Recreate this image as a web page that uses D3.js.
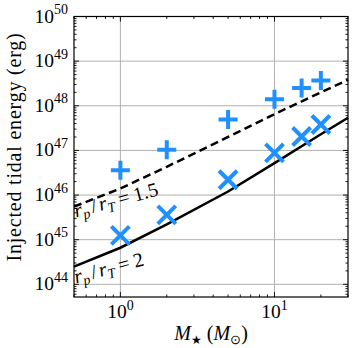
<!DOCTYPE html>
<html>
<head>
<meta charset="utf-8">
<script src="https://cdn.jsdelivr.net/npm/d3@7"></script>
<style>
  body { margin: 0; background: #fff; }
  svg { display: block; }
  text { font-family: "Liberation Serif", "Times New Roman", serif; fill: #000; }
</style>
</head>
<body>
<svg id="chart"></svg>
<script>
// stellar masses of the simulated stars (M_sun)
const masses = [1, 2, 5, 10, 15, 20];
// injected tidal energy, plus markers (erg)
const energyPlus = [3.6e46, 1.04e47, 4.9e47, 1.4e48, 2.5e48, 3.7e48];
// injected tidal energy, cross markers (erg)
const energyCross = [1.25e45, 3.6e45, 2.2e46, 8.8e46, 2.05e47, 3.8e47];

// analytic curves
const lineMass = [0.5, 1, 2, 5, 10, 20, 30];
const curveBeta15 = [5.5e45, 1.4e46, 4.3e46, 2.0e47, 6.5e47, 2.0e48, 3.8e48];
const curveBeta2 = [2.5e44, 6.6e44, 2.2e45, 1.2e46, 5.2e46, 2.3e47, 5.4e47];

const xTickExp = [0, 1];
const yTickExp = [44, 45, 46, 47, 48, 49, 50];

const svgWidth = 353;
const svgHeight = 348;
const margin = { top: 16.5, right: 5, bottom: 51, left: 74 };
const width = svgWidth - margin.left - margin.right;
const height = svgHeight - margin.top - margin.bottom;
const blue = '#1e90ff';

const svg = d3.select('#chart')
    .attr('width', svgWidth)
    .attr('height', svgHeight);

const g = svg.append('g')
    .attr('transform', `translate(${margin.left}, ${margin.top})`);

const xScale = d3.scaleLog()
    .domain([0.5, 30])
    .range([0, width]);

const yScale = d3.scaleLog()
    .domain([5.2e43, 1e50])
    .range([height, 0]);

// minor tick positions (1..9 x 10^k) inside the domain
function logTicks(scale) {
    const [a, b] = scale.domain();
    const out = [];
    for (let k = Math.floor(Math.log10(a)); k <= Math.ceil(Math.log10(b)); k++) {
        for (let m = 1; m < 10; m++) {
            const v = m * Math.pow(10, k);
            if (v >= a * 0.999 && v <= b * 1.001) out.push({ v, major: m === 1 });
        }
    }
    return out;
}

// grid
g.selectAll('.xgrid')
    .data(xTickExp)
    .enter()
    .append('line')
    .attr('x1', d => xScale(Math.pow(10, d)))
    .attr('x2', d => xScale(Math.pow(10, d)))
    .attr('y1', 0)
    .attr('y2', height)
    .attr('stroke', '#b0b0b0')
    .attr('stroke-width', 1);

g.selectAll('.ygrid')
    .data(yTickExp)
    .enter()
    .append('line')
    .attr('x1', 0)
    .attr('x2', width)
    .attr('y1', d => yScale(Math.pow(10, d)))
    .attr('y2', d => yScale(Math.pow(10, d)))
    .attr('stroke', '#b0b0b0')
    .attr('stroke-width', 1);

// curves
const line = d3.line()
    .x((d, i) => xScale(lineMass[i]))
    .y(d => yScale(d));

g.append('path')
    .datum(curveBeta15)
    .attr('d', line)
    .attr('fill', 'none')
    .attr('stroke', '#000')
    .attr('stroke-width', 2.5)
    .attr('stroke-dasharray', '8,4.5');

g.append('path')
    .datum(curveBeta2)
    .attr('d', line)
    .attr('fill', 'none')
    .attr('stroke', '#000')
    .attr('stroke-width', 2.5);

// markers
const halfPlus = 9.5;
const halfCross = 9;
const plusG = g.selectAll('.plus')
    .data(masses)
    .enter()
    .append('g')
    .attr('transform', (d, i) => `translate(${xScale(d)}, ${yScale(energyPlus[i])})`);
plusG.append('path')
    .attr('d', `M${-halfPlus},0H${halfPlus}M0,${-halfPlus}V${halfPlus}`)
    .attr('stroke', blue)
    .attr('stroke-width', 4)
    .attr('fill', 'none');

const crossG = g.selectAll('.cross')
    .data(masses)
    .enter()
    .append('g')
    .attr('transform', (d, i) => `translate(${xScale(d)}, ${yScale(energyCross[i])})`);
crossG.append('path')
    .attr('d', `M${-halfCross},${-halfCross}L${halfCross},${halfCross}M${-halfCross},${halfCross}L${halfCross},${-halfCross}`)
    .attr('stroke', blue)
    .attr('stroke-width', 4)
    .attr('fill', 'none');

// curve labels
function curveLabel(x, y, value) {
    const t = g.append('text')
        .attr('transform', `translate(${x}, ${y}) rotate(-15)`)
        .style('font-size', '20px');
    t.append('tspan').style('font-style', 'italic').text('r');
    t.append('tspan').style('font-style', 'italic').style('font-size', '14px').attr('dy', 4).text('p');
    t.append('tspan').attr('dy', -4).attr('dx', 2.5).text('/');
    t.append('tspan').attr('dx', 2.5).style('font-style', 'italic').text('r');
    t.append('tspan').style('font-style', 'italic').style('font-size', '14px').attr('dy', 4).text('T');
    t.append('tspan').attr('dy', -4).attr('dx', 4.5).text('=');
    t.append('tspan').attr('dx', 4.5).text(value);
}
curveLabel(2, 201, '1.5');
curveLabel(2, 267, '2');

// frame
g.append('rect')
    .attr('width', width)
    .attr('height', height)
    .attr('fill', 'none')
    .attr('stroke', '#000')
    .attr('stroke-width', 1.2);

// inward ticks on all four sides
const xt = logTicks(xScale);
const yt = logTicks(yScale);
const tickG = g.append('g').attr('stroke', '#000').attr('stroke-width', 0.9);
xt.forEach(t => {
    const px = xScale(t.v);
    const len = t.major ? 5 : 2.5;
    tickG.append('line').attr('x1', px).attr('x2', px).attr('y1', height).attr('y2', height - len);
    tickG.append('line').attr('x1', px).attr('x2', px).attr('y1', 0).attr('y2', len);
});
yt.forEach(t => {
    const py = yScale(t.v);
    const len = t.major ? 5 : 2.5;
    tickG.append('line').attr('x1', 0).attr('x2', len).attr('y1', py).attr('y2', py);
    tickG.append('line').attr('x1', width).attr('x2', width - len).attr('y1', py).attr('y2', py);
});

// tick labels
g.selectAll('.ylab')
    .data(yTickExp)
    .enter()
    .append('text')
    .attr('x', -6)
    .attr('y', d => yScale(Math.pow(10, d)) + 6)
    .attr('text-anchor', 'end')
    .style('font-size', '19.5px')
    .each(function (d) {
        const t = d3.select(this);
        t.append('tspan').text('10');
        t.append('tspan').attr('dy', -8.5).style('font-size', '14px').text(d);
    });

g.selectAll('.xlab')
    .data(xTickExp)
    .enter()
    .append('text')
    .attr('x', d => xScale(Math.pow(10, d)))
    .attr('y', height + 21)
    .attr('text-anchor', 'middle')
    .style('font-size', '19.5px')
    .each(function (d) {
        const t = d3.select(this);
        t.append('tspan').text('10');
        t.append('tspan').attr('dy', -8.5).style('font-size', '14px').text(d);
    });

// axis titles
const xTitle = svg.append('text')
    .attr('x', 211)
    .attr('y', 340)
    .attr('text-anchor', 'middle')
    .style('font-size', '20px');
xTitle.append('tspan').style('font-style', 'italic').text('M');
xTitle.append('tspan').attr('dy', 4).style('font-size', '12px').text('\u2605');
xTitle.append('tspan').attr('dy', -4).attr('dx', 5).text('(');
xTitle.append('tspan').style('font-style', 'italic').text('M');
xTitle.append('tspan').attr('dy', 4).style('font-size', '13px').text('\u2299');
xTitle.append('tspan').attr('dy', -4).text(')');

svg.append('text')
    .attr('transform', `translate(21, 147) rotate(-90)`)
    .attr('text-anchor', 'middle')
    .style('font-size', '20px')
    .style('letter-spacing', '0.8px')
    .text('Injected tidal energy (erg)');
</script>
</body>
</html>
